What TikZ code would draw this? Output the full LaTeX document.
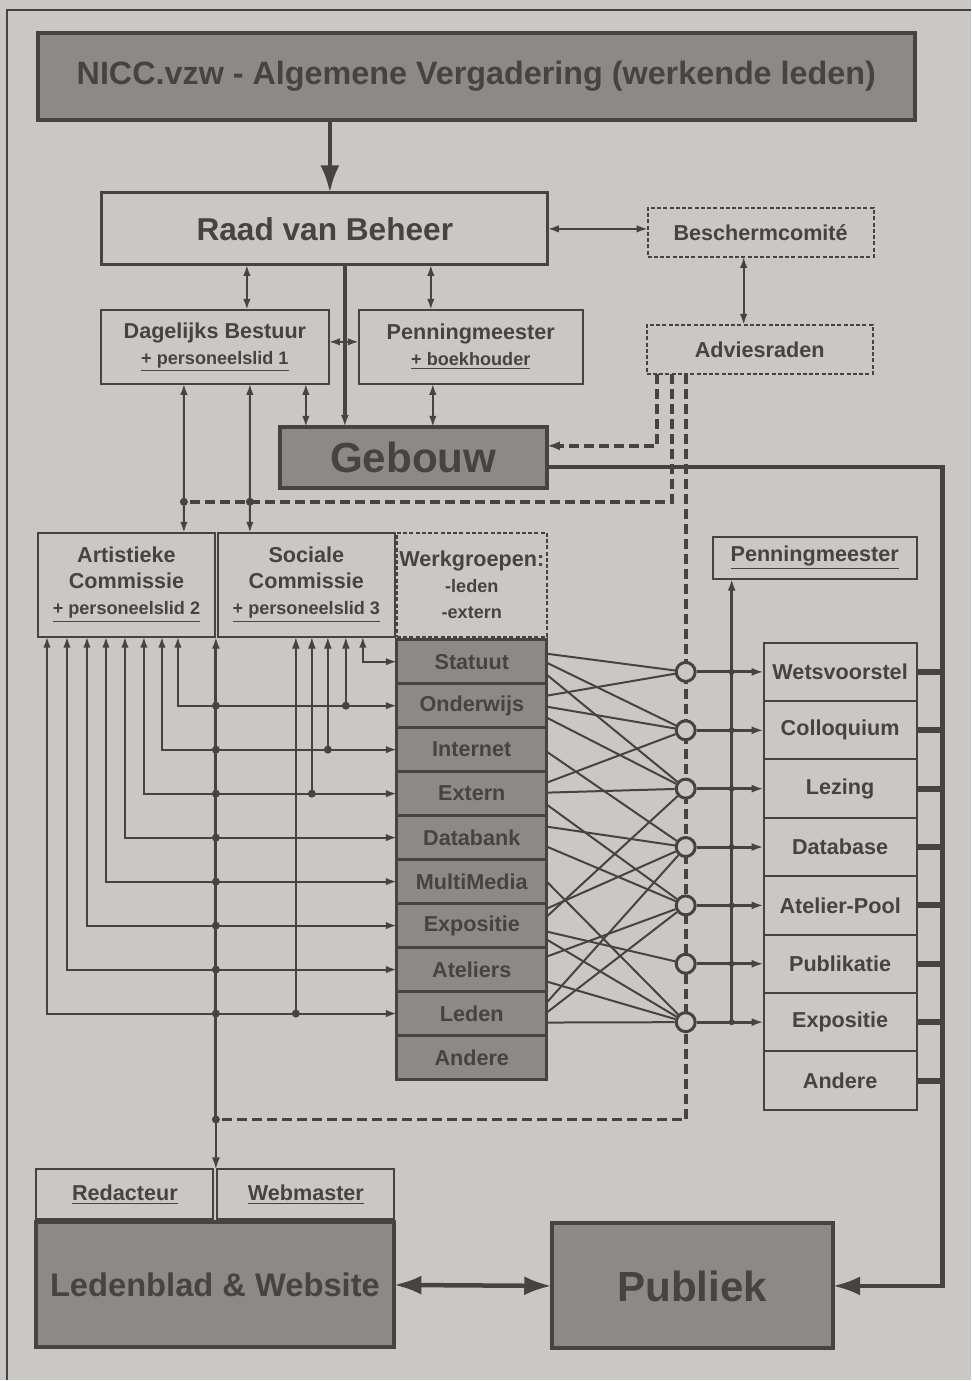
\documentclass[tikz,border=0pt]{standalone}
\usepackage{fontspec}
\setmainfont{Liberation Sans}
\usepackage{tikz}
\usetikzlibrary{shapes,arrows.meta,calc,positioning}
\definecolor{paper}{RGB}{201,200,197}
\definecolor{ink}{RGB}{72,67,67}
\definecolor{shade}{RGB}{140,137,136}
\newcommand{\boxfont}{\bfseries\fontsize{12.3}{14.8}\selectfont}
\newcommand{\notefont}{\bfseries\fontsize{10.3}{12.3}\selectfont}
\newcommand{\staff}[1]{{\notefont\underline{#1}}}
\tikzset{box/.style={draw=ink, line width=0.4mm, text=ink, align=center, font=\boxfont, inner sep=0pt, outer sep=0pt}}
\tikzset{dbox/.style={box, dash pattern=on 0.8mm off 0.45mm}}
\tikzset{darkbox/.style={box, fill=shade, line width=0.8mm}}
\tikzset{item/.style={box, fill=shade, line width=0.6mm, minimum width=30mm, minimum height=8.8mm}}
\tikzset{outbox/.style={box, minimum width=30.6mm, minimum height=11.68mm}}
\tikzset{knot/.style={circle, draw=ink, line width=0.6mm, fill=paper, minimum size=3.8mm, inner sep=0pt}}
\tikzset{line/.style={draw=ink, line width=0.4mm, -{Latex[length=2.4mm, width=1.6mm]}}}
\tikzset{both/.style={draw=ink, line width=0.4mm, {Latex[length=2.2mm, width=1.5mm]}-{Latex[length=2.2mm, width=1.5mm]}}}
\tikzset{wire/.style={draw=ink, line width=0.4mm}}
\tikzset{heavy/.style={draw=ink, line width=0.9mm, -{Latex[length=5.5mm, width=3.8mm]}}}
\tikzset{stub/.style={draw=ink, line width=1.2mm}}
\tikzset{feed/.style={draw=ink, line width=0.75mm, dash pattern=on 2mm off 1mm}}

\begin{document}
\begin{tikzpicture}[x=0.2mm, y=-0.2mm]
        \fill [paper] (0,0) rectangle (971,1381);
        \draw [ink, line width=0.25mm] (7,1381) |- (971,10);
        %
        \coordinate (cx)    at (686,0);
        \coordinate (pen)   at (732,0);
        \coordinate (rail)  at (943,0);
        \coordinate (trunk) at (216,0);
        \coordinate (j1)    at (184,502);
        \coordinate (j2)    at (250,502);
        \coordinate (j3)    at (216,1120);
        %
        \node [darkbox, minimum width=175.4mm, minimum height=17.4mm, font=\bfseries\fontsize{18.4}{21}\selectfont] (nicc) at (476.5,76.5) {NICC.vzw - Algemene Vergadering (werkende leden)};
        \node [box, line width=0.6mm, minimum width=89.2mm, minimum height=14.4mm, font=\bfseries\fontsize{18}{21}\selectfont] (raad) at (325,229) {Raad van Beheer};
        \node [dbox, minimum width=45.2mm, minimum height=9.8mm]   (bescherm) at (761,232.5) {Beschermcomité};
        \node [dbox, minimum width=45.2mm, minimum height=9.8mm]   (advies)   at (760,349.5) {Adviesraden};
        \node [box, minimum width=45.6mm, minimum height=14.8mm]   (bestuur)  at (215,347)   {Dagelijks Bestuur\\\staff{+ personeelslid 1}};
        \node [box, minimum width=44.8mm, minimum height=14.8mm, right=6mm of bestuur] (penning) {Penningmeester\\\staff{+ boekhouder}};
        \node [darkbox, minimum width=53.4mm, minimum height=12.2mm, font=\bfseries\fontsize{24}{28}\selectfont] (gebouw) at (413.5,457.5) {Gebouw};
        %
        \node [box, minimum width=35.4mm, minimum height=20.8mm]   (artist)   at (126.5,585) {Artistieke\\Commissie\\\staff{+ personeelslid 2}};
        \node [box, minimum width=35.4mm, minimum height=20.8mm, right=0.6mm of artist] (sociaal) {Sociale\\Commissie\\\staff{+ personeelslid 3}};
        \node [dbox, minimum width=30mm, minimum height=20.8mm, right=0.4mm of sociaal] (werk) {Werkgroepen:\\{\notefont -leden}\\{\notefont -extern}};
        %
        \node [item]                   (w1)  at (472,662) {Statuut};
        \node [item, below=0pt of w1]  (w2)  {Onderwijs};
        \node [item, below=0pt of w2]  (w3)  {Internet};
        \node [item, below=0pt of w3]  (w4)  {Extern};
        \node [item, below=0pt of w4]  (w5)  {Databank};
        \node [item, below=0pt of w5]  (w6)  {MultiMedia};
        \node [item, below=0pt of w6]  (w7)  {Expositie};
        \node [item, below=0pt of w7]  (w8)  {Ateliers};
        \node [item, below=0pt of w8]  (w9)  {Leden};
        \node [item, below=0pt of w9]  (w10) {Andere};
        %
        \node [box, minimum width=40.8mm, minimum height=8.4mm]    (penright) at (815,558) {\underline{Penningmeester}};
        \node [outbox]                 (r1) at (840.5,672.2) {Wetsvoorstel};
        \node [outbox, below=0pt of r1] (r2) {Colloquium};
        \node [outbox, below=0pt of r2] (r3) {Lezing};
        \node [outbox, below=0pt of r3] (r4) {Database};
        \node [outbox, below=0pt of r4] (r5) {Atelier-Pool};
        \node [outbox, below=0pt of r5] (r6) {Publikatie};
        \node [outbox, below=0pt of r6] (r7) {Expositie};
        \node [outbox, below=0pt of r7] (r8) {Andere};
        %
        \node [box, minimum width=35.4mm, minimum height=10mm]     (redact)   at (125,1195) {\underline{Redacteur}};
        \node [box, minimum width=35.4mm, minimum height=10mm, right=0.8mm of redact] (webmaster) {\underline{Webmaster}};
        \node [darkbox, minimum width=71.6mm, minimum height=25mm, font=\bfseries\fontsize{18.6}{21}\selectfont] (ledenblad) at (215,1285.5) {Ledenblad \& Website};
        \node [darkbox, minimum width=56.2mm, minimum height=25mm, font=\bfseries\fontsize{24}{28}\selectfont] (publiek) at (692.5,1286.5) {Publiek};
        %
        \path [heavy] (nicc.south -| 330,0) -- (raad.north -| 330,0);
        \path [both] (raad.east) -- (raad.east -| bescherm.west);
        \path [both] ([xshift=-3.4mm]bescherm.south) -- ([xshift=-3.4mm]bescherm.south |- advies.north);
        \path [both] ([xshift=6.4mm]bestuur.north) -- ([xshift=6.4mm]bestuur.north |- raad.south);
        \path [both] ([xshift=-8mm]penning.north) -- ([xshift=-8mm]penning.north |- raad.south);
        \path [line, line width=0.7mm] ([xshift=4mm]raad.south) -- ([xshift=4mm]raad.south |- gebouw.north);
        \path [both] ([yshift=1mm]bestuur.east) -- ([yshift=1mm]penning.west);
        \path [both] ([xshift=18.2mm]bestuur.south) -- ([xshift=18.2mm]bestuur.south |- gebouw.north);
        \path [both] ([xshift=-7.6mm]penning.south) -- ([xshift=-7.6mm]penning.south |- gebouw.north);
        \path [both] ([xshift=-6.2mm]bestuur.south) -- (j1 |- artist.north);
        \path [both] ([xshift=7mm]bestuur.south) -- (j2 |- sociaal.north);
        %
        \path [feed, -{Latex[length=2.6mm, width=1.8mm]}] ([xshift=-20.6mm]advies.south) |- ([yshift=2.3mm]gebouw.east);
        \path [feed] ([xshift=-17.6mm]advies.south) |- (j1);
        \path [feed] ([xshift=-14.8mm]advies.south) |- (j3);
        \fill [ink] (j1) circle (0.8mm) (j2) circle (0.8mm) (j3) circle (0.8mm);
        \path [heavy] ([yshift=-1.9mm]gebouw.east) -| (rail |- publiek.east) -- (publiek.east);
        \path [heavy, {Latex[length=5.5mm, width=3.8mm]}-{Latex[length=5.5mm, width=3.8mm]}] (ledenblad.east) -- (publiek.west);
        %
        \node [knot] (c1) at (r1.west -| cx) {};
        \node [knot] (c2) at (r2.west -| cx) {};
        \node [knot] (c3) at (r3.west -| cx) {};
        \node [knot] (c4) at (r4.west -| cx) {};
        \node [knot] (c5) at (r5.west -| cx) {};
        \node [knot] (c6) at (r6.west -| cx) {};
        \node [knot] (c7) at (r7.west -| cx) {};
        %
        \path [wire] (w1.east |- 0,654)  -- (c1);
        \path [wire] (w1.east |- 0,663)  -- (c2);
        \path [wire] (w1.east |- 0,675)  -- (c3);
        \path [wire] (w2.east |- 0,696)  -- (c1);
        \path [wire] (w2.east |- 0,707)  -- (c2);
        \path [wire] (w2.east |- 0,718)  -- (c3);
        \path [wire] (w3.east |- 0,752)  -- (c4);
        \path [wire] (w4.east |- 0,783)  -- (c2);
        \path [wire] (w4.east |- 0,793)  -- (c3);
        \path [wire] (w4.east |- 0,805)  -- (c5);
        \path [wire] (w5.east |- 0,827)  -- (c4);
        \path [wire] (w5.east |- 0,847)  -- (c5);
        \path [wire] (w6.east |- 0,882)  -- (c7);
        \path [wire] (w7.east |- 0,909)  -- (c4);
        \path [wire] (w7.east |- 0,917)  -- (c3);
        \path [wire] (w7.east |- 0,932)  -- (c6);
        \path [wire] (w7.east |- 0,940)  -- (c7);
        \path [wire] (w8.east |- 0,957)  -- (c5);
        \path [wire] (w8.east |- 0,982)  -- (c7);
        \path [wire] (w9.east |- 0,1003) -- (c4);
        \path [wire] (w9.east |- 0,1013) -- (c5);
        \path [wire] (w9.east |- 0,1023) -- (c7);
        %
        \path [line, line width=0.6mm] (c1) -- (r1.west);
        \path [line, line width=0.6mm] (c2) -- (r2.west);
        \path [line, line width=0.6mm] (c3) -- (r3.west);
        \path [line, line width=0.6mm] (c4) -- (r4.west);
        \path [line, line width=0.6mm] (c5) -- (r5.west);
        \path [line, line width=0.6mm] (c6) -- (r6.west);
        \path [line, line width=0.6mm] (c7) -- (r7.west);
        \path [line, line width=0.5mm] (pen |- c7) -- (pen |- penright.south);
        \fill [ink] (pen |- c1) circle (0.6mm) (pen |- c2) circle (0.6mm) (pen |- c3) circle (0.6mm) (pen |- c4) circle (0.6mm) (pen |- c5) circle (0.6mm) (pen |- c6) circle (0.6mm) (pen |- c7) circle (0.6mm);
        \path [stub] (r1.east) -- (r1.east -| rail);
        \path [stub] (r2.east) -- (r2.east -| rail);
        \path [stub] (r3.east) -- (r3.east -| rail);
        \path [stub] (r4.east) -- (r4.east -| rail);
        \path [stub] (r5.east) -- (r5.east -| rail);
        \path [stub] (r6.east) -- (r6.east -| rail);
        \path [stub] (r7.east) -- (r7.east -| rail);
        \path [stub] (r8.east) -- (r8.east -| rail);
        %
        \path [both] (artist.south -| 178,0) |- (w2.west);
        \path [both] (artist.south -| 162,0) |- (w3.west);
        \path [both] (artist.south -| 144,0) |- (w4.west);
        \path [both] (artist.south -| 125,0) |- (w5.west);
        \path [both] (artist.south -| 106,0) |- (w6.west);
        \path [both] (artist.south -| 87,0)  |- (w7.west);
        \path [both] (artist.south -| 67,0)  |- (w8.west);
        \path [both] (artist.south -| 47,0)  |- (w9.west);
        \path [both] (sociaal.south -| 363,0) |- (w1.west);
        \path [line] (346,0 |- w2.west) -- (sociaal.south -| 346,0);
        \path [line] (328,0 |- w3.west) -- (sociaal.south -| 328,0);
        \path [line] (312,0 |- w4.west) -- (sociaal.south -| 312,0);
        \path [line] (296,0 |- w9.west) -- (sociaal.south -| 296,0);
        \fill [ink] (346,0 |- w2.west) circle (0.8mm) (328,0 |- w3.west) circle (0.8mm) (312,0 |- w4.west) circle (0.8mm) (296,0 |- w9.west) circle (0.8mm);
        \path [line, line width=0.6mm] (j3) -- (artist.south -| trunk);
        \path [line] (j3) -- (j3 |- redact.north);
        \fill [ink] (trunk |- w2.west) circle (0.8mm) (trunk |- w3.west) circle (0.8mm) (trunk |- w4.west) circle (0.8mm) (trunk |- w5.west) circle (0.8mm) (trunk |- w6.west) circle (0.8mm) (trunk |- w7.west) circle (0.8mm) (trunk |- w8.west) circle (0.8mm) (trunk |- w9.west) circle (0.8mm);
    \end{tikzpicture}
\end{document}
